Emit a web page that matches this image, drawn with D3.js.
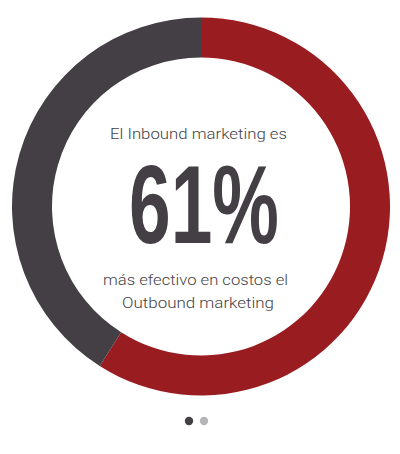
<!DOCTYPE html>
<html><head><meta charset="utf-8">
<script src="https://cdn.jsdelivr.net/npm/d3@7"></script>
<style>html,body{margin:0;padding:0;background:#fff;}svg{display:block;}</style>
</head><body>
<svg id="c" width="400" height="454"></svg>
<script>
const categories = ["Inbound", "Outbound"];
const values = [59, 41];
const colors = ["#991c20", "#433f45"];
const headline = "61%";
const topLine = "El Inbound marketing es";
const bottomLines = ["más efectivo en costos el", "Outbound marketing"];
const pages = [0, 1];

const svg = d3.select("#c");
const cx = 201, cy = 206.5, rOut = 189, rIn = 149;
const g = svg.append("g").attr("transform", `translate(${cx},${cy})`);
const pie = d3.pie().sort(null).value(d => d.v);
const arc = d3.arc().innerRadius(rIn).outerRadius(rOut);
const data = categories.map((c, i) => ({c, v: values[i], col: colors[i]}));
g.selectAll("path").data(pie(data)).join("path")
  .attr("d", arc).attr("fill", d => d.data.col);

const txtCol = "#433f45";
svg.append("text").attr("x", 198.5).attr("y", 139).attr("text-anchor", "middle")
  .attr("font-family", "Roboto").attr("font-weight", 300).attr("font-size", 15.5)
  .attr("fill", txtCol).attr("textLength", 177).attr("lengthAdjust", "spacingAndGlyphs")
  .text(topLine);
svg.append("text").attr("x", 204).attr("y", 242.5).attr("text-anchor", "middle")
  .attr("font-family", "'Liberation Sans Narrow', 'Liberation Sans', sans-serif").attr("font-weight", 700).attr("font-size", 111)
  .attr("fill", "#433f45").attr("textLength", 150).attr("lengthAdjust", "spacingAndGlyphs")
  .text(headline);
const widths = [185, 152];
const ys = [285, 308];
bottomLines.forEach((t, i) => {
  svg.append("text").attr("x", i === 0 ? 195.5 : 198).attr("y", ys[i]).attr("text-anchor", "middle")
    .attr("font-family", "Roboto").attr("font-weight", 300).attr("font-size", 15.5)
    .attr("fill", txtCol).attr("textLength", widths[i]).attr("lengthAdjust", "spacingAndGlyphs")
    .text(t);
});
const dx = d3.scalePoint().domain(pages).range([189, 204]);
svg.selectAll("circle.dot").data(pages).join("circle").attr("class", "dot")
  .attr("cx", d => dx(d)).attr("cy", 421).attr("r", 4.2)
  .attr("fill", (d, i) => i === 0 ? "#433f45" : "#b5b4b6");
</script>
</body></html>
